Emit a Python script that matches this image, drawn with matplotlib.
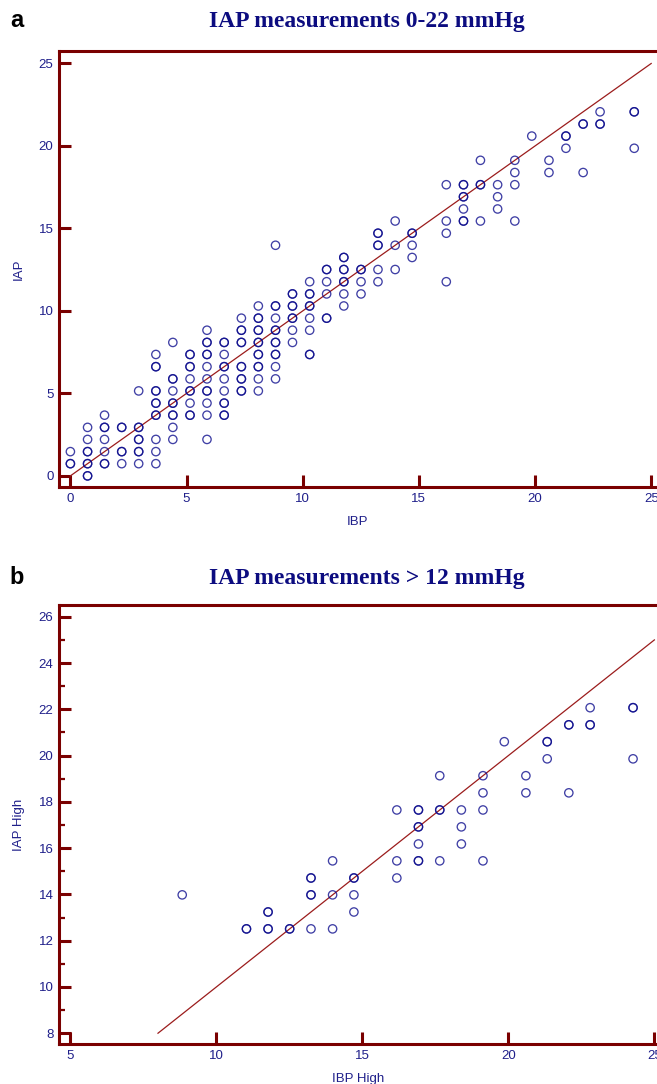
import matplotlib
matplotlib.use("Agg")
import matplotlib.pyplot as plt
from matplotlib.ticker import MultipleLocator, FixedLocator

# ---------------- data (mmHg) ----------------
# IBP value of each column of points and the IAP values in that column (panel a)
ibp_levels = [0.00, 0.74, 1.47, 2.21, 2.94, 3.68, 4.41, 5.15, 5.88, 6.62, 7.36,
              8.09, 8.83, 9.56, 10.30, 11.03, 11.77, 12.51, 13.24, 13.98, 14.71,
              16.18, 16.92, 17.65, 18.39, 19.13, 19.86, 20.60, 21.33, 22.07, 22.80, 24.27]
iap_columns = [
    [0.74, 0.74, 1.47],
    [0.00, 0.00, 0.74, 0.74, 1.47, 1.47, 2.21, 2.94],
    [0.74, 0.74, 1.47, 2.21, 2.94, 2.94, 3.68],
    [0.74, 1.47, 1.47, 2.94, 2.94],
    [0.74, 1.47, 1.47, 2.21, 2.21, 2.94, 2.94, 5.15],
    [0.74, 1.47, 2.21, 3.68, 3.68, 4.41, 4.41, 5.15, 5.15, 6.62, 6.62, 7.36],
    [2.21, 2.94, 3.68, 3.68, 4.41, 4.41, 5.15, 5.88, 5.88, 8.09],
    [3.68, 3.68, 4.41, 5.15, 5.15, 5.88, 6.62, 6.62, 7.36, 7.36],
    [2.21, 3.68, 4.41, 5.15, 5.15, 5.88, 6.62, 7.36, 7.36, 8.09, 8.09, 8.83],
    [3.68, 3.68, 4.41, 4.41, 5.15, 5.88, 6.62, 6.62, 7.36, 8.09, 8.09],
    [5.15, 5.15, 5.88, 5.88, 6.62, 6.62, 8.09, 8.09, 8.83, 8.83, 9.56],
    [5.15, 5.88, 6.62, 6.62, 7.36, 7.36, 8.09, 8.09, 8.83, 8.83, 9.56, 9.56, 10.30],
    [5.88, 6.62, 7.36, 7.36, 8.09, 8.09, 8.83, 8.83, 9.56, 10.30, 10.30, 13.98],
    [8.09, 8.83, 9.56, 9.56, 10.30, 10.30, 11.03, 11.03],
    [7.36, 7.36, 8.83, 9.56, 10.30, 10.30, 11.03, 11.03, 11.77],
    [9.56, 9.56, 11.03, 11.77, 12.51, 12.51],
    [10.30, 11.03, 11.77, 11.77, 12.51, 12.51, 13.24, 13.24],
    [11.03, 11.77, 12.51, 12.51],
    [11.77, 12.51, 13.98, 13.98, 14.71, 14.71],
    [12.51, 13.98, 15.45],
    [13.24, 13.98, 14.71, 14.71],
    [11.77, 14.71, 15.45, 17.65],
    [15.45, 15.45, 16.18, 16.92, 16.92, 17.65, 17.65],
    [15.45, 17.65, 17.65, 19.13],
    [16.18, 16.92, 17.65],
    [15.45, 17.65, 18.39, 19.13],
    [20.60],
    [18.39, 19.13],
    [19.86, 20.60, 20.60],
    [18.39, 21.33, 21.33],
    [21.33, 21.33, 22.07],
    [19.86, 22.07, 22.07],
]
high_threshold = 12.0          # panel b keeps the IAP measurements above 12 mmHg

title_a = "IAP measurements 0-22 mmHg"
title_b = "IAP measurements > 12 mmHg"

# expand columns into point lists
ibp_all, iap_all = [], []
for xv, col in zip(ibp_levels, iap_columns):
    for yv in col:
        ibp_all.append(xv)
        iap_all.append(yv)
ibp_high = [x for x, y in zip(ibp_all, iap_all) if y > high_threshold]
iap_high = [y for y in iap_all if y > high_threshold]

# ---------------- style ----------------
spine_col = "#7a0000"
line_col = "#9b1c1c"
txt_col = "#1f1f8a"
title_col = "#0c0c80"
mark_col = (0.04, 0.04, 0.55, 0.78)
sans = ["Liberation Sans", "DejaVu Sans"]

plt.rcParams["font.family"] = sans

fig = plt.figure(figsize=(6.57, 10.84), dpi=100)
ax_a = fig.add_axes([0.0898, 0.5505, 0.9102, 0.4025])
ax_b = fig.add_axes([0.0898, 0.0366, 0.9102, 0.4053])


def style(ax):
    for s in ("left", "bottom", "top"):
        ax.spines[s].set_color(spine_col)
        ax.spines[s].set_linewidth(2.2)
    ax.spines["right"].set_visible(False)
    ax.tick_params(which="major", direction="in", length=8.5, width=2.2,
                   color=spine_col, labelcolor=txt_col, labelsize=9.5, pad=4,
                   top=False, right=False)
    ax.tick_params(which="minor", direction="in", length=4.5, width=1.6,
                   color=spine_col, top=False, right=False)


# ---- panel a ----
ax_a.scatter(ibp_all, iap_all, s=36, facecolors="none", edgecolors=[mark_col],
             linewidths=0.95, zorder=3)
ax_a.plot([0, 25], [0, 25], color=line_col, lw=0.9, zorder=2)
ax_a.set_xlim(-0.49, 25.25)
ax_a.set_ylim(-0.69, 25.76)
ax_a.xaxis.set_major_locator(MultipleLocator(5))
ax_a.yaxis.set_major_locator(MultipleLocator(5))
style(ax_a)
ax_a.set_xlabel("IBP", color=txt_col, fontsize=9.5)
ax_a.set_ylabel("IAP", color=txt_col, fontsize=9.5)
ax_a.xaxis.set_label_coords(0.5, -0.066)
ax_a.yaxis.set_label_coords(-0.057, 0.5)

# ---- panel b ----
ax_b.scatter(ibp_high, iap_high, s=36, facecolors="none", edgecolors=[mark_col],
             linewidths=0.95, zorder=3)
ax_b.plot([8, 25], [8, 25], color=line_col, lw=0.9, zorder=2)
ax_b.set_xlim(4.61, 25.09)
ax_b.set_ylim(7.52, 26.51)
ax_b.xaxis.set_major_locator(MultipleLocator(5))
ax_b.yaxis.set_major_locator(MultipleLocator(2))
ax_b.yaxis.set_minor_locator(FixedLocator(list(range(9, 26, 2))))
style(ax_b)
ax_b.set_xlabel("IBP High", color=txt_col, fontsize=9.5)
ax_b.set_ylabel("IAP High", color=txt_col, fontsize=9.5)
ax_b.xaxis.set_label_coords(0.5, -0.065)
ax_b.yaxis.set_label_coords(-0.057, 0.5)

# ---- titles & panel letters ----
serif = ["Liberation Serif", "DejaVu Serif"]
fig.text(0.558, 0.9805, title_a, ha="center", va="center", fontsize=17,
         fontweight="bold", color=title_col, family=serif)
fig.text(0.558, 0.4660, title_b, ha="center", va="center", fontsize=17,
         fontweight="bold", color=title_col, family=serif)
fig.text(0.015, 0.9815, "a", ha="left", va="center", fontsize=17,
         fontweight="bold", color="black")
fig.text(0.015, 0.4668, "b", ha="left", va="center", fontsize=17,
         fontweight="bold", color="black")

fig.savefig("out.png", dpi=100)
